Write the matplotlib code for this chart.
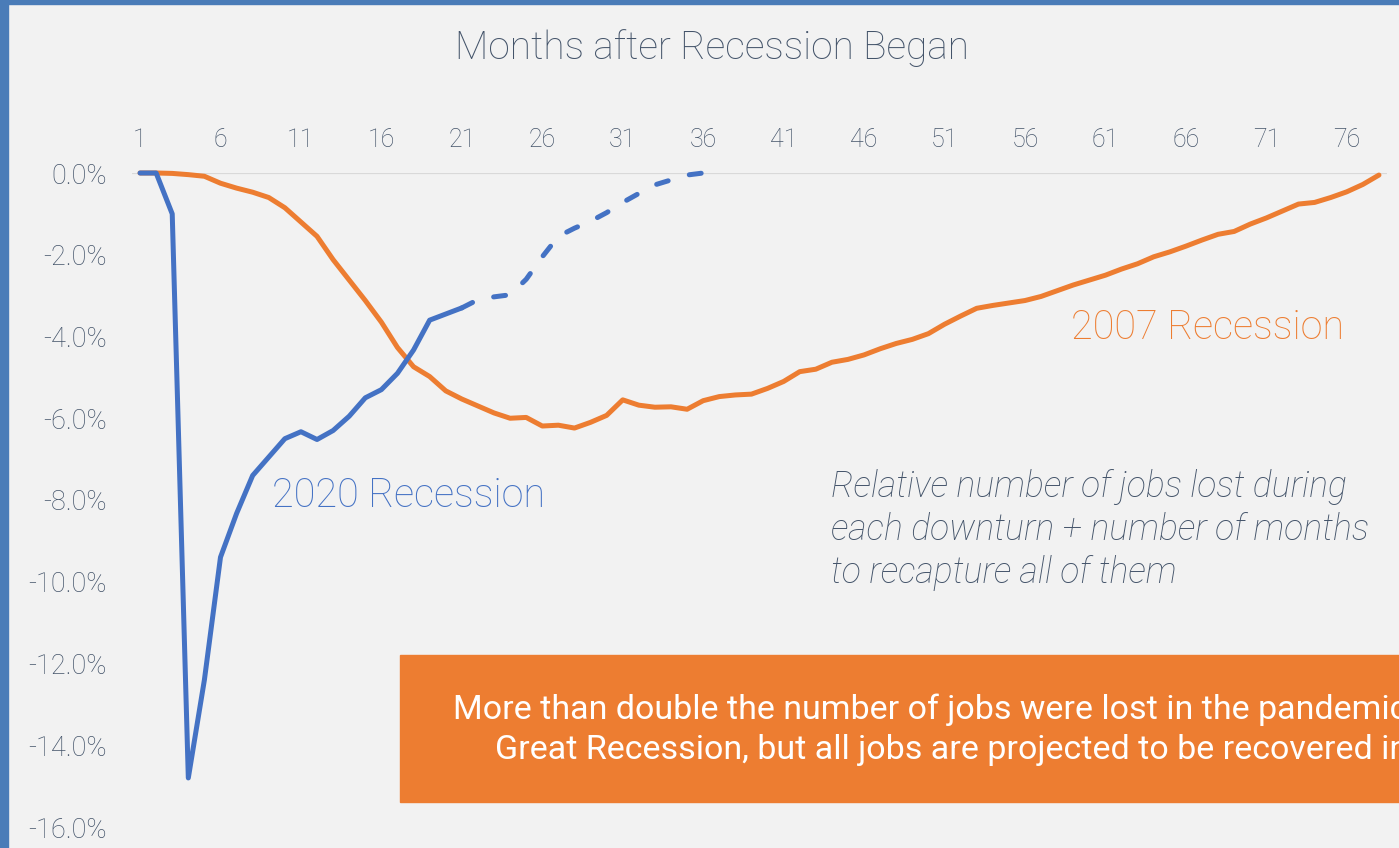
import matplotlib
matplotlib.use("Agg")
import matplotlib.pyplot as plt
from matplotlib import font_manager as fm
from matplotlib.patches import Rectangle

# ---------------- data ----------------
months = list(range(1, 79))
tick_months = list(range(1, 77, 5))
y_ticks = [0, -2, -4, -6, -8, -10, -12, -14, -16]

rec2020_actual_months = list(range(1, 22))
rec2020_actual = [0.0, 0.0, -1.0, -14.8, -12.4, -9.4, -8.33, -7.4, -6.95, -6.5,
                  -6.33, -6.52, -6.3, -5.95, -5.5, -5.3, -4.9, -4.33, -3.6, -3.45,
                  -3.3]
rec2020_proj_months = list(range(21, 37))
rec2020_proj = [-3.3, -3.1, -3.03, -2.98, -2.6, -2.05, -1.55, -1.35, -1.18, -0.97,
                -0.72, -0.5, -0.29, -0.17, -0.05, 0.0]

rec2007 = [0.0, 0.0, -0.01, -0.04, -0.08, -0.25, -0.37, -0.47, -0.6, -0.85,
           -1.2, -1.55, -2.12, -2.62, -3.12, -3.65, -4.27, -4.74, -4.98, -5.33,
           -5.53, -5.7, -5.87, -6.0, -5.98, -6.19, -6.17, -6.24, -6.1, -5.93,
           -5.55, -5.68, -5.73, -5.72, -5.78, -5.57, -5.47, -5.43, -5.41, -5.27,
           -5.1, -4.86, -4.8, -4.63, -4.56, -4.45, -4.3, -4.17, -4.07, -3.93,
           -3.7, -3.5, -3.31, -3.24, -3.18, -3.12, -3.02, -2.88, -2.74, -2.62,
           -2.5, -2.35, -2.22, -2.05, -1.93, -1.79, -1.64, -1.5, -1.43, -1.25,
           -1.1, -0.93, -0.76, -0.72, -0.6, -0.46, -0.28, -0.05]

title = "Months after Recession Began"
label_2020 = "2020 Recession"
label_2007 = "2007 Recession"
note = "Relative number of jobs lost during\neach downturn + number of months\nto recapture all of them"
box_line1 = "More than double the number of jobs were lost in the pandemic"
box_line2 = "Great Recession, but all jobs are projected to be recovered in"

# ---------------- styling ----------------
names = {f.name for f in fm.fontManager.ttflist}
base_font = "Roboto" if "Roboto" in names else "DejaVu Sans"
plt.rcParams["font.family"] = [base_font, "DejaVu Sans"]

BLUE = "#4472c4"
ORANGE = "#ed7d31"
TEXT = "#44546a"
BG = "#f2f2f2"

W, H = 1399, 848
fig = plt.figure(figsize=(W / 100, H / 100), dpi=100, facecolor=BG)

# blue frame strips (background image edges)
fig.patches.append(Rectangle((0, 0), 8 / W, 1, transform=fig.transFigure,
                             color="#4a7cb8", zorder=0))
fig.patches.append(Rectangle((0, 1 - 4 / H), 1, 4 / H, transform=fig.transFigure,
                             color="#4a7cb8", zorder=0))

left, right, top, bottom = 132, 1387, 173, 827
ax = fig.add_axes([left / W, 1 - bottom / H, (right - left) / W, (bottom - top) / H])
ax.set_facecolor("none")
ax.set_xlim(0.5, 78.5)
ax.set_ylim(-16, 0)

for s in ax.spines.values():
    s.set_visible(False)
ax.axhline(0, color="#d9d9d9", lw=1.6, zorder=1)

ax.xaxis.tick_top()
ax.set_xticks(tick_months)
ax.set_xticklabels([str(m) for m in tick_months])
ax.set_yticks(y_ticks)
ax.set_yticklabels([f"{v:.1f}%" for v in y_ticks])
ax.tick_params(axis="x", length=0, pad=15, labelsize=18, labelcolor=TEXT)
ax.tick_params(axis="y", length=0, pad=18, labelsize=19.5, labelcolor=TEXT)
for lab in ax.get_xticklabels() + ax.get_yticklabels():
    lab.set_fontweight("light")

ax.plot(months, rec2007, color=ORANGE, lw=3.6, solid_capstyle="round",
        solid_joinstyle="round", clip_on=False, zorder=3)
ax.plot(rec2020_actual_months, rec2020_actual, color=BLUE, lw=3.6,
        solid_capstyle="round", solid_joinstyle="round", clip_on=False, zorder=4)
ax.plot(rec2020_proj_months, rec2020_proj, color=BLUE, lw=3.6, dashes=(2.4, 4.4),
        dash_capstyle="round", dash_joinstyle="round", clip_on=False, zorder=4)

# texts
fig.text(712 / W, 1 - 48 / H, title, ha="center", va="center", fontsize=28,
         color=TEXT, fontweight="light")
fig.text(272 / W, 1 - 496 / H, label_2020, ha="left", va="center", fontsize=28.5,
         color=BLUE, fontweight="light")
fig.text(1071 / W, 1 - 328 / H, label_2007, ha="left", va="center", fontsize=28.5,
         color=ORANGE, fontweight="light")
fig.text(831 / W, 1 - 530 / H, note, ha="left", va="center", fontsize=25.6,
         color=TEXT, style="italic", fontweight="light", linespacing=1.26)

# orange call-out box
fig.patches.append(Rectangle((400 / W, 1 - 802 / H), 1.2, (802 - 655) / H,
                             transform=fig.transFigure, color=ORANGE, zorder=5))
fig.text(453 / W, 1 - 710 / H, box_line1, ha="left", va="center", fontsize=24.5,
         color="white", fontweight="normal", zorder=6)
fig.text(495 / W, 1 - 750 / H, box_line2, ha="left", va="center", fontsize=24.5,
         color="white", fontweight="normal", zorder=6)

fig.savefig("out.png", dpi=100, facecolor=BG)
